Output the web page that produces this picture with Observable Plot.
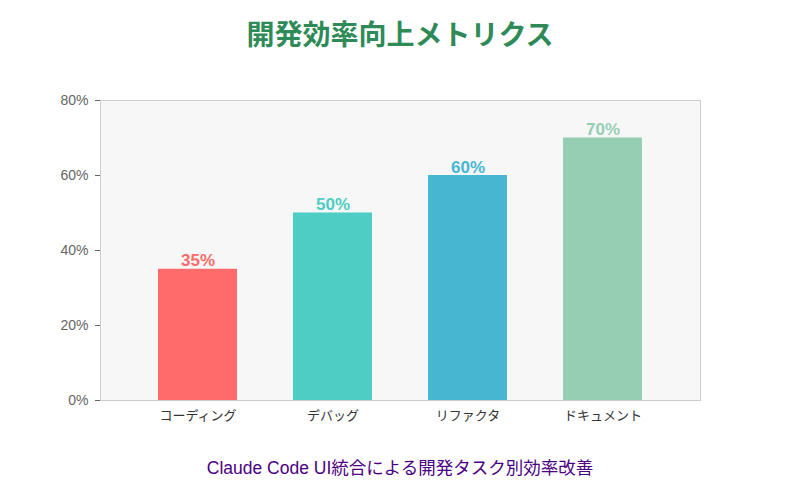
<!DOCTYPE html>
<html>
<head>
<meta charset="utf-8">
<script src="https://cdn.jsdelivr.net/npm/d3@7"></script>
<script src="https://cdn.jsdelivr.net/npm/@observablehq/plot@0.6"></script>
<style>
  html, body { margin: 0; padding: 0; background: #fff; }
  body { width: 800px; height: 500px; font-family: "Liberation Sans", "Noto Sans CJK JP", sans-serif; }
  #title { height: 66px; line-height: 66px; text-align: center; font-size: 28px; font-weight: bold; color: #2e8b57; font-family: "Noto Sans CJK JP", sans-serif; }
  #caption { text-align: center; font-size: 17.5px; color: #4b0082; margin-top: 18px; font-family: "Liberation Sans", "Noto Sans CJK JP", sans-serif; }
  #chart svg { display: block; }
</style>
</head>
<body>
<div id="title">開発効率向上メトリクス</div>
<div id="chart"></div>
<div id="caption">Claude Code UI統合による開発タスク別効率改善</div>
<script>
const categories = ["コーディング", "デバッグ", "リファクタ", "ドキュメント"];
const values = [35, 50, 60, 70];
const colors = ["#ff6b6b", "#4ecdc4", "#45b7d1", "#96ceb4"];
const yTicks = [0, 20, 40, 60, 80];

const data = categories.map((c, i) => ({ category: c, value: values[i], color: colors[i] }));

const chart = Plot.plot({
  width: 800,
  height: 370,
  marginTop: 34,
  marginBottom: 36,
  marginLeft: 100,
  marginRight: 100,
  style: { fontFamily: "'Liberation Sans', 'Noto Sans CJK JP', sans-serif", background: "transparent" },
  x: { domain: categories, padding: 0.412, label: null },
  y: { domain: [0, 80], label: null },
  marks: [
    Plot.frame({ fill: "#f7f7f7", stroke: "#cccccc" }),
    Plot.axisY({ ticks: yTicks, tickFormat: d => d + "%", tickSize: 5, tickPadding: 7, fontSize: 14, color: "#666", stroke: "#666", label: null }),
    Plot.axisX({ tickSize: 0, tickPadding: 10, fontSize: 13, color: "#333", label: null }),
    Plot.barY(data, { x: "category", y: "value", fill: "color" }),
    Plot.text(data, { x: "category", y: "value", text: d => d.value + "%", fill: "color", lineAnchor: "bottom", dy: -3, fontSize: 17, fontWeight: "bold" })
  ]
});
document.getElementById("chart").appendChild(chart);
</script>
</body>
</html>
